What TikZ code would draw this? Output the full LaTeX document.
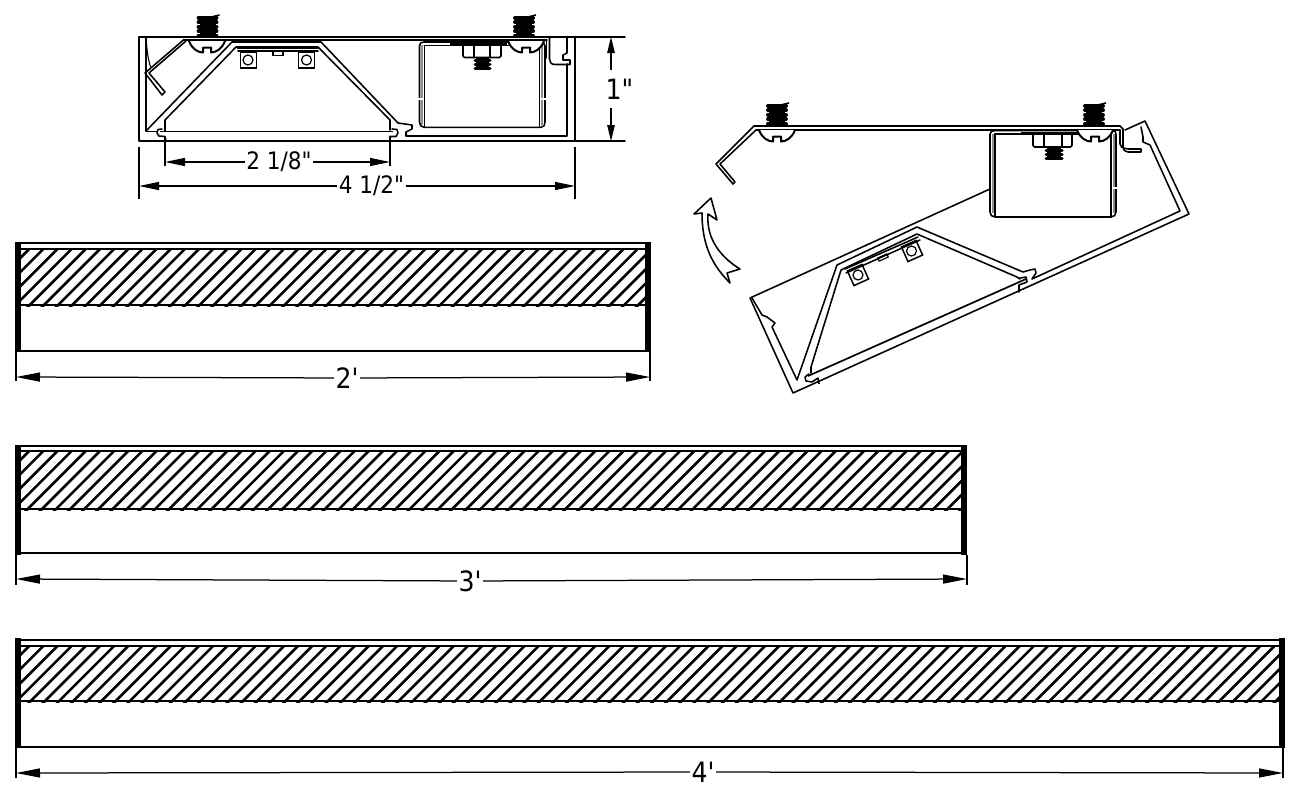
\documentclass[tikz,border=0pt]{standalone}
\usepackage{fontspec}
\newfontfamily\dimfont{DejaVu Sans Condensed}
\usetikzlibrary{arrows.meta}
\tikzset{
  ln/.style={line width=1.55pt,line join=round,line cap=round,black},
  thin ln/.style={line width=1.1pt,line join=round,black},
  dimline/.style={line width=1.25pt,black},
  wall/.style={line width=2pt,black!45},
  tipS/.style={-{Stealth[length=20pt,width=8pt,inset=0pt]},dimline},
  tipL/.style={-{Stealth[length=24pt,width=9pt,inset=0pt]},dimline},
  dimtext/.style={inner sep=1.5pt,font=\dimfont\fontsize{24}{24}\selectfont},
  bigtext/.style={inner sep=1.5pt,font=\dimfont\fontsize{28}{28}\selectfont},
  bracketbox/.style={draw,line width=1.5pt,minimum size=16pt,inner sep=0pt},
  hole/.style={circle,draw,line width=1.2pt,minimum size=10pt,inner sep=0pt},
  tab/.style={draw,line width=1.1pt,minimum width=10pt,minimum height=3.5pt,inner sep=0pt}
}
% screw: centre x, top y, bottom y
\newcommand\threadscrew[3]{%
  \fill (#1-8,#2+2) rectangle (#1+8,#3);
  \foreach \t in {0,1,2,3,4}{\draw[line width=3.9pt,line cap=round] (#1-9,#2+3+\t*4.4) -- (#1+9,#2+3+\t*4.4);}
  \draw[line width=1.6pt] (#1+4,#2+2) -- (#1+12,#2);
}
% screw head: centre x, top y
\newcommand\screwhead[2]{%
  \filldraw[fill=white,line width=2pt,line join=round]
    (#1-18,#2) .. controls (#1-15,#2+8) and (#1-9,#2+11.5) .. (#1-4,#2+11.5)
    -- (#1-4,#2+6.5) -- (#1+4,#2+6.5) -- (#1+4,#2+11.5)
    .. controls (#1+9,#2+11.5) and (#1+15,#2+8) .. (#1+18,#2);
}
\newcommand\fixture[8]{%
  \begin{scope}
    \clip (#1,#4-1) rectangle (#2,#5+1);
    \foreach \k in {-6,...,95}{
      \draw[line width=2.6pt] ({#1+9.2+\k*14.15},#4) -- ({#1+9.2+\k*14.15-(#5-#4)-3},#5+3);
    }
  \end{scope}
  \draw[ln] (#1,#3) -- (#2,#3);
  \draw[ln] (#1,#4) -- (#2,#4);
  \draw[ln] (#1,#5) -- (#2,#5);
  \draw[ln] (#1,#6) -- (#2,#6);
  \fill (#1-5,#7) rectangle (#1+0.5,#8);
  \fill (#2-0.5,#7) rectangle (#2+6,#8);
}
\begin{document}
\begin{tikzpicture}[x=1pt,y=-1pt]
\useasboundingbox (0,0) rectangle (1296,790);
\fill[white] (0,0) rectangle (1296,790);

%%%%%%%%%% section view, top left
\draw[ln] (625,37) -- (139,37) -- (139,141) -- (625,141);
\draw[ln] (575,37) -- (575,141);
\draw[ln] (184,39.8) -- (547,39.8);
\draw[thin ln] (146,38) .. controls (147,50) and (148,60) .. (151,68);
\draw[ln] (146,38) -- (146,131);
% flap
\draw[ln] (184,39.5) -- (145,73) -- (162,95) -- (165,92) -- (149,73) -- (186,41);
% reflector
\draw[ln] (146,131) -- (232,42) -- (321,42) -- (398,123) -- (412,125) -- (412,129) -- (406,132) -- (406,136) -- (567,136) -- (567,64);
\draw[ln] (165,131) -- (165,120) -- (236,47) -- (318,47) -- (390,120) -- (390,130);
% lens and caps
\draw[line width=1.7pt] (146,131.5) -- (157,131.5);
\draw[line width=1.7pt] (160,131.5) -- (393,131.5);
\draw[ln] (162,129) -- (158,129.5) -- (157,133) -- (159,136) -- (165,136.5) -- (166,141);
\draw[ln] (392,129) -- (397,129.5) -- (398,133) -- (396,136.5) -- (390,136.5) -- (390,141);
% clip at right
\draw[ln] (567,37) -- (567,53) -- (563,55) -- (563,60) -- (570,60) -- (570,64.5) -- (555,64.5) .. controls (551,64.5) and (549.5,62) .. (549.5,59) -- (549.5,38);
\draw[ln] (546.5,40) -- (546.5,58);
% brackets
\draw[line width=1.8pt] (237,48) -- (319,48);
\draw[ln] (238,51) -- (318,51);
\node[bracketbox] (bl) at (248.5,60) {};
\node[hole] (blh) at (248,60) {};
\node[bracketbox] (br) at (306.5,60) {};
\node[hole] (brh) at (306.5,60) {};
\node[tab] (btab) at (278,53.5) {};
% channel box
\draw[wall] (422,45) -- (422,125);
\draw[wall] (542.3,45) -- (542.3,125);
\draw[ln] (419.5,46) .. controls (419.5,43) and (421,42) .. (424,42) -- (540,42) .. controls (543,42) and (545,43) .. (545,46) -- (545,122) .. controls (545,125) and (544,127.3) .. (541,127.3) -- (424,127.3) .. controls (421,127.3) and (419.5,125) .. (419.5,122) -- cycle;
\draw[ln] (424.3,45.7) -- (424.3,127);
\draw[ln] (539.5,45.7) -- (539.5,127);
\draw[ln] (424.3,45.7) -- (539.5,45.7);
\draw[line width=2.2pt] (450,43.8) -- (507,43.8);
\draw[white,line width=2pt] (418,99) -- (423,99);
\draw[white,line width=2pt] (541,99) -- (546,99);
% nut and bolt
\draw[ln,rounded corners=1.5pt] (463,46) -- (463,57.5) -- (501,57.5) -- (501,46);
\draw[ln] (474,46) -- (474,57.5);
\draw[ln] (490,46) -- (490,57.5);
\fill (476,58) rectangle (489,70);
\foreach \t in {0,1,2}{\draw[line width=3pt,line cap=round] (475,60+\t*4.3) -- (490,60+\t*4.3);}
% screws
\threadscrew{207.5}{15}{37}
\screwhead{207}{41}
\threadscrew{524}{15}{37}
\screwhead{526}{41}

% dimensions of section
\node[bigtext] (d1) at (619.5,89) {1"};
\coordinate (d1t) at (611,37);
\coordinate (d1b) at (611,141);
\draw[dimline,-{Stealth[length=16pt,width=7.5pt,inset=0pt]}] (611,70) -- (d1t);
\draw[dimline,-{Stealth[length=16pt,width=7.5pt,inset=0pt]}] (611,108) -- (d1b);
\node[dimtext] (d2) at (279,162) {2 1/8"};
\coordinate (d2l) at (165,162);
\coordinate (d2r) at (390,162);
\draw[tipS] (d2) -- (d2l);
\draw[tipS] (d2) -- (d2r);
\draw[dimline] (165,137) -- (165,166);
\draw[dimline] (390,137) -- (390,166);
\node[dimtext] (d4) at (371.5,186) {4 1/2"};
\coordinate (d4l) at (139,186);
\coordinate (d4r) at (575,186);
\draw[tipS] (d4) -- (d4l);
\draw[tipS] (d4) -- (d4r);
\draw[dimline] (139,147) -- (139,199);
\draw[dimline] (575,147) -- (575,199);

%%%%%%%%%% open view, top right
% door plate
\draw[ln] (1120,126) -- (754,126) -- (716,164) -- (733,184) -- (735,182) -- (720,164) -- (756,130) -- (1120,130);
\draw[ln] (1120,126) -- (1123,129) -- (1123,147) .. controls (1123,150) and (1125,152) .. (1128,152) -- (1141,152) -- (1141,149) -- (1128,149) .. controls (1122,148) and (1120,147) .. (1120,144) -- (1120,130);
% housing
\draw[ln] (990,189) -- (750,298) -- (793,393) -- (1189,214) -- (1145,121) -- (1125,130);
\draw[ln] (752,298) -- (762,315) -- (767,317) -- (775,323) -- (772,327) -- (797,380) -- (837,265) -- (917,227) -- (1023,272) -- (1030,270) -- (1035,269) -- (1036,273) -- (1032,279) -- (1180,211) -- (1150,145) -- (1143,142) -- (1143,137) -- (1141,127);
\draw[ln] (811,373) -- (811,367) -- (841,270) -- (917,234) -- (1017,277) -- (1020,279);
% lens
\draw[line width=1.7pt] (808,376) -- (1026,279);
\draw[ln] (809,374) -- (805,377) -- (806,381) -- (812,382) -- (818,378) -- (819,383.5);
\draw[ln] (1020,278) -- (1026,277) -- (1027,282) -- (1019,285) -- (1019,292);
% brackets
\draw[ln] (845,269) -- (918,237);
\draw[ln] (846,273) -- (920,240);
\node[bracketbox,rotate=24] (obl) at (858,275) {};
\node[hole] (oblh) at (858,275) {};
\node[bracketbox,rotate=24] (obr) at (912,251) {};
\node[hole] (obrh) at (911.5,251) {};
\node[tab,rotate=24] (otab) at (883,257.5) {};
% channel box
\draw[wall] (992.5,134) -- (992.5,213);
\draw[wall] (1113.5,134) -- (1113.5,213);
\draw[ln] (990,134) .. controls (990,132) and (992,130.5) .. (995,130.5) -- (1112,130.5) .. controls (1115,130.5) and (1116,132) .. (1116,134) -- (1116,212) .. controls (1116,215) and (1114,217) .. (1111,217) -- (995,217) .. controls (992,217) and (990,215) .. (990,212) -- cycle;
\draw[ln] (995,134) -- (995,217);
\draw[ln] (1111,134) -- (1111,217);
\draw[ln] (995,134) -- (1111,134);
\draw[line width=2pt] (1021,132.5) -- (1078,132.5);
\draw[white,line width=2pt] (1112,188) -- (1117,188);
% nut and bolt
\draw[ln,rounded corners=1.5pt] (1033,135) -- (1033,147) -- (1072,147) -- (1072,135);
\draw[ln] (1044,135) -- (1044,147);
\draw[ln] (1062,135) -- (1062,147);
\fill (1047,147) rectangle (1061,160);
\foreach \t in {0,1,2}{\draw[line width=3pt,line cap=round] (1046,150+\t*4.3) -- (1062,150+\t*4.3);}
% screws
\threadscrew{777}{103}{125}
\screwhead{777}{130}
\threadscrew{1094}{103}{125}
\screwhead{1095}{130}
% curved arrow
\draw[ln,fill=white] (711,198) -- (694,214) -- (702,213) .. controls (702,245) and (712,265) .. (730,283) -- (727,273) -- (740,269) .. controls (722,258) and (706,240) .. (708,214) -- (717,220) -- cycle;

%%%%%%%%%% fixtures
\fixture{20}{645}{243}{249}{305}{351}{242}{352}
\coordinate (a2l) at (16,377);
\coordinate (a2r) at (650,377);
\node[bigtext] (t2) at (347,378) {2'};
\draw[tipL] (t2) -- (a2l);
\draw[tipL] (t2) -- (a2r);
\draw[dimline] (16,352) -- (16,381);
\draw[dimline] (650,352) -- (650,381);

\fixture{20}{961}{446}{451}{509}{553}{445}{555}
\coordinate (a3l) at (16,579);
\coordinate (a3r) at (967,579);
\node[bigtext] (t3) at (470,581) {3'};
\draw[tipL] (t3) -- (a3l);
\draw[tipL] (t3) -- (a3r);
\draw[dimline] (16,555) -- (16,585);
\draw[dimline] (967,555) -- (967,585);

\fixture{20}{1279}{640}{646}{701}{747}{638}{748}
\coordinate (a4l) at (16,773);
\coordinate (a4r) at (1283,773);
\node[bigtext] (t4) at (703,772) {4'};
\draw[tipL] (t4) -- (a4l);
\draw[tipL] (t4) -- (a4r);
\draw[dimline] (16,748) -- (16,778);
\draw[dimline] (1283,748) -- (1283,778);
\end{tikzpicture}
\end{document}
